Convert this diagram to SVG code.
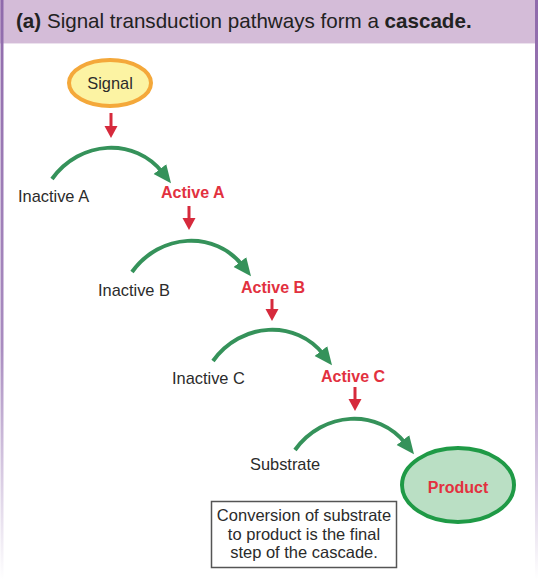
<svg xmlns="http://www.w3.org/2000/svg" width="548" height="580" viewBox="0 0 548 580">
<defs>
<linearGradient id="fade" x1="0" y1="0" x2="0" y2="580" gradientUnits="userSpaceOnUse">
<stop offset="0" stop-color="#8f6aab"/>
<stop offset="0.6" stop-color="#a98cc0"/>
<stop offset="1" stop-color="#a98cc0" stop-opacity="0"/>
</linearGradient>
<marker id="gh" markerUnits="userSpaceOnUse" markerWidth="20" markerHeight="18" refX="5" refY="8" orient="auto">
<path d="M0,0 L18,8 L0,16 Z" fill="#35925a"/>
</marker>
<marker id="rh" markerUnits="userSpaceOnUse" markerWidth="14" markerHeight="14" refX="2" refY="6.5" orient="auto">
<path d="M0,0 L12,6.5 L0,13 Z" fill="#d62a3c"/>
</marker>
<style>
.lbl{font-family:"Liberation Sans",Arial,sans-serif;font-size:16.4px;fill:#2b2b2b}
.act{font-family:"Liberation Sans",Arial,sans-serif;font-size:16px;font-weight:bold;fill:#e2313f}
.arc{fill:none;stroke:#35925a;stroke-width:4;marker-end:url(#gh)}
.red{fill:none;stroke:#d62a3c;stroke-width:3;marker-end:url(#rh)}
.box{font-family:"Liberation Sans",Arial,sans-serif;font-size:16.5px;fill:#2b2b2b}
</style>
</defs>
<rect x="0" y="0" width="548" height="580" fill="#ffffff"/>
<g id="header">
<rect x="0" y="0" width="536" height="43" fill="#d4bcd8"/>
<line x1="0" y1="43.5" x2="536" y2="43.5" stroke="#ece2ee" stroke-width="1"/>
<text x="16" y="28" font-family="'Liberation Sans',Arial,sans-serif" font-size="20.6" fill="#222"><tspan font-weight="bold">(a)</tspan> Signal transduction pathways form a <tspan font-weight="bold">cascade.</tspan></text>
</g>
<g id="borders">
<line x1="2" y1="0" x2="2" y2="580" stroke="url(#fade)" stroke-width="3"/>
<line x1="536.5" y1="0" x2="536.5" y2="580" stroke="url(#fade)" stroke-width="3"/>
</g>
<g id="connectors">
<path class="red" d="M111,113 L111,128"/>
<path class="red" d="M189,206 L189,220"/>
<path class="red" d="M272,299 L272,311"/>
<path class="red" d="M355,387 L355,401"/>
<path class="arc" d="M52,179 C80,140 135,137 163,173"/>
<path class="arc" d="M132,272 C160,233 215,230 243,266"/>
<path class="arc" d="M213,361 C241,322 296,319 324,355"/>
<path class="arc" d="M295,450 C323,411 378,408 406,444"/>
</g>
<g id="signal">
<ellipse cx="110" cy="83" rx="41" ry="23" fill="#fcf3a3" stroke="#f4a83a" stroke-width="4"/>
<text x="110" y="89" text-anchor="middle" class="lbl">Signal</text>
</g>
<g id="inactive-a"><text x="18" y="202" class="lbl">Inactive A</text></g>
<g id="active-a"><text x="161" y="198" class="act">Active A</text></g>
<g id="inactive-b"><text x="98" y="296" class="lbl">Inactive B</text></g>
<g id="active-b"><text x="241" y="293" class="act">Active B</text></g>
<g id="inactive-c"><text x="172" y="384" class="lbl">Inactive C</text></g>
<g id="active-c"><text x="321" y="382" class="act">Active C</text></g>
<g id="substrate"><text x="250" y="470" class="lbl">Substrate</text></g>
<g id="product">
<ellipse cx="458" cy="485" rx="56" ry="37" fill="#badfc4" stroke="#1f9a46" stroke-width="4"/>
<text x="458" y="493" text-anchor="middle" class="act">Product</text>
</g>
<g id="note">
<rect x="211.5" y="501.5" width="185" height="66" fill="#ffffff" stroke="#555" stroke-width="1.5"/>
<text x="304" y="521" text-anchor="middle" class="box">Conversion of substrate</text>
<text x="304" y="540" text-anchor="middle" class="box">to product is the final</text>
<text x="304" y="558" text-anchor="middle" class="box">step of the cascade.</text>
</g>
</svg>
